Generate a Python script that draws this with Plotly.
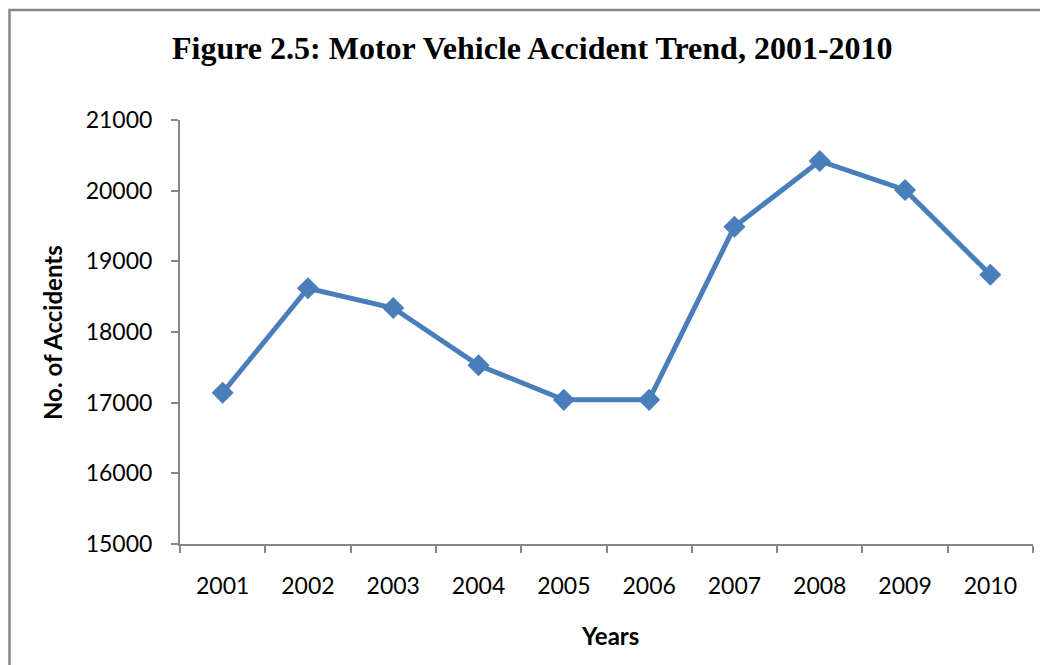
import plotly.graph_objects as go

years = ["2001", "2002", "2003", "2004", "2005", "2006", "2007", "2008", "2009", "2010"]
accidents = [17140, 18620, 18340, 17530, 17040, 17040, 19490, 20420, 20010, 18810]
y_ticks = [15000, 16000, 17000, 18000, 19000, 20000, 21000]

title_text = "Figure 2.5: Motor Vehicle Accident Trend, 2001-2010"
x_title = "Years"
y_title = "No. of Accidents"

# page offset (browser body margin)
OFF = 8
W, H = 1048, 665
# target plot area in screen px
SX0, SX1, SY0, SY1 = 180, 1033, 120, 544
L = SX0 - OFF
T = SY0 - OFF
R = W - (SX1 - OFF)
B = H - (SY1 - OFF)
pw, ph = SX1 - SX0, SY1 - SY0

def px(x):
    return (x - SX0) / pw

def py(y):
    return (SY1 - y) / ph

fig = go.Figure()
fig.add_trace(go.Scatter(
    x=years, y=accidents, mode="lines+markers",
    line=dict(color="#4a7ebb", width=5),
    marker=dict(symbol="diamond", size=17, color="#4a7ebb"),
    showlegend=False, hoverinfo="x+y",
))

tick_font = dict(family="Lato, Open Sans, sans-serif", size=23, color="#000000")

fig.update_layout(
    width=W, height=H,
    margin=dict(l=L, r=R, t=T, b=B),
    paper_bgcolor="white", plot_bgcolor="white",
    xaxis=dict(
        type="category", tickson="boundaries", ticks="outside", ticklen=7,
        tickcolor="#868686", tickwidth=2, showline=True, linecolor="#868686",
        linewidth=2, showgrid=False, zeroline=False, tickfont=tick_font,
        ticklabelstandoff=20, range=[-0.5, 9.5], automargin=False,
    ),
    yaxis=dict(
        range=[15000, 21000], tickvals=y_ticks, tickformat="d", ticks="outside", ticklen=7,
        tickcolor="#868686", tickwidth=2, showline=True, linecolor="#868686",
        linewidth=2, showgrid=False, zeroline=False, tickfont=tick_font,
        ticklabelstandoff=14, automargin=False,
    ),
    annotations=[
        dict(text="<b>" + title_text + "</b>", xref="paper", yref="paper",
             x=px(532), y=py(48), showarrow=False, xanchor="center", yanchor="middle",
             font=dict(family="Liberation Serif, Times New Roman, serif", size=32, color="#000000")),
        dict(text="<b>" + x_title + "</b>", xref="paper", yref="paper",
             x=px(610), y=py(635), showarrow=False, xanchor="center", yanchor="middle",
             font=dict(family="Lato, Open Sans, sans-serif", size=24, color="#000000")),
        dict(text="<b>" + y_title + "</b>", xref="paper", yref="paper",
             x=px(52), y=py(333), showarrow=False, xanchor="center", yanchor="middle",
             textangle=-90,
             font=dict(family="Lato, Open Sans, sans-serif", size=24, color="#000000")),
    ],
    shapes=[
        dict(type="rect", xref="paper", yref="paper",
             x0=px(OFF + 1.5), x1=px(1080), y0=py(700), y1=py(10),
             line=dict(color="#868686", width=2.5), fillcolor="rgba(0,0,0,0)", layer="below"),
    ],
)

fig.write_html("out.html")
